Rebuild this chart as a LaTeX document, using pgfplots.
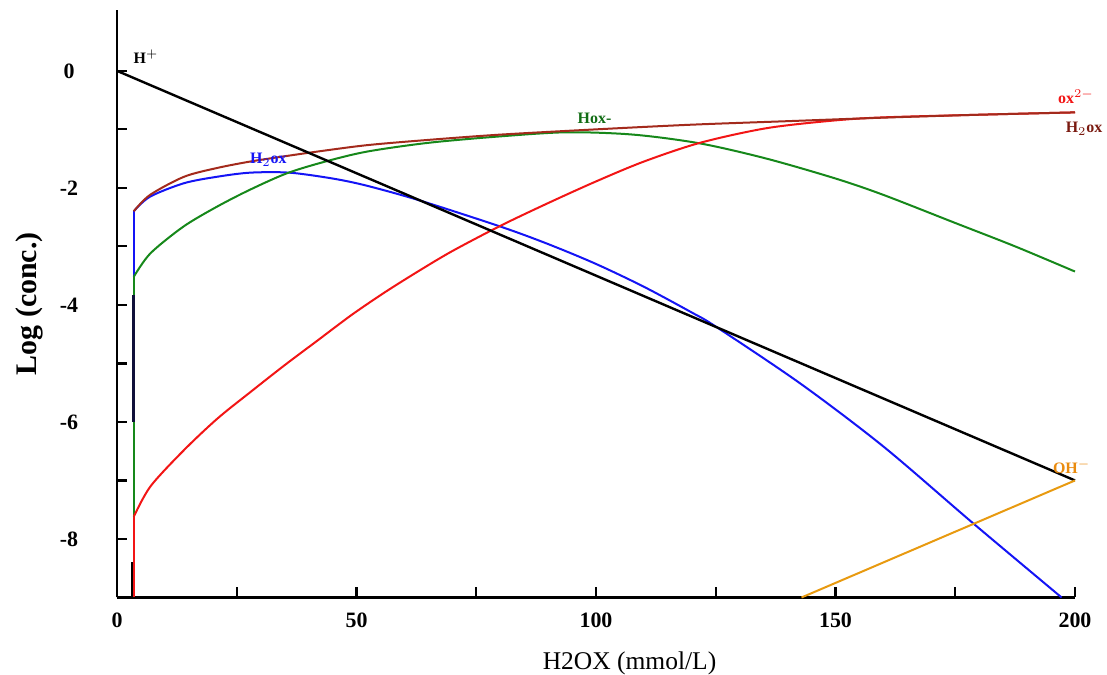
\documentclass[border=0pt]{standalone}
\usepackage{fontspec}
\setmainfont{Liberation Serif}
\usepackage{pgfplots}
\pgfplotsset{compat=1.18}
\definecolor{lnBrown}{HTML}{A32A1C}
\definecolor{lnRed}{HTML}{F21515}
\definecolor{lnGreen}{HTML}{16881A}
\definecolor{lnBlue}{HTML}{1414F5}
\definecolor{lnOrange}{HTML}{E89A10}
\definecolor{lbBrown}{HTML}{7A1A10}
\definecolor{navy}{HTML}{10103A}
\tikzset{lbl/.style={font=\fontsize{8}{9}\selectfont\bfseries, inner sep=0pt}}

\begin{document}
\begin{tikzpicture}
\begin{axis}[
  scale only axis, width=479bp, height=293.75bp,
  xmin=0, xmax=200, ymin=-9, ymax=1.04,
  axis x line=bottom, axis y line=left,
  axis line style={-, line width=1.2bp},
  xtick={0,50,...,200}, minor xtick={25,75,125,175},
  ytick={-8,-6,-4,-2,0}, minor ytick={-9,-7,-5,-3,-1},
  tick align=inside, major tick length=5bp, minor tick length=5bp,
  every tick/.style={black, line width=1.1bp},
  /pgf/number format/assume math mode=true,
  ticklabel style={font=\fontsize{11}{13}\selectfont\bfseries},
  xticklabel style={yshift=-4bp},
  yticklabel style={anchor=center, xshift=-24bp},
  xlabel={H2OX (mmol/L)},
  xlabel style={at={(axis description cs:0.535,-0.112)}, anchor=center,
                font=\fontsize{12.8}{14}\selectfont},
  ylabel={Log (conc.)},
  ylabel style={at={(axis description cs:-0.091,0.5)}, anchor=center,
                font=\fontsize{15}{17}\selectfont\bfseries},
  clip=false,
  every axis plot/.append style={line width=1bp},
  crv/.style={smooth, tension=0.5},
]
% vertical jumps at the first point
\addplot[lnBlue] coordinates {(3.5,-6.0) (3.5,-2.40)};
\addplot[lnGreen] coordinates {(3.5,-9) (3.5,-3.52)};
\addplot[navy, line width=1.3bp] coordinates {(3.5,-3.83) (3.5,-6.0)};
\addplot[black] coordinates {(3.2,-8.4) (3.2,-9)};
\addplot[lnRed] coordinates {(3.5,-9) (3.5,-7.62)};
% H2ox (blue)
\addplot[lnBlue, crv] coordinates {
  (3.5,-2.40) (6.9,-2.15) (14,-1.92) (20.9,-1.81) (27.8,-1.74)
  (36,-1.74) (45,-1.84) (52,-1.96) (63,-2.21) (80,-2.66) (90,-2.96)
  (100,-3.30) (110,-3.69) (120,-4.13) (125,-4.37) (142.6,-5.34)
  (160,-6.42) (178.7,-7.73) (197.2,-9)};
% Hox- (green)
\addplot[lnGreen, crv] coordinates {
  (3.5,-3.52) (6.96,-3.12) (13.9,-2.66) (20.9,-2.32) (27.8,-2.03)
  (35.5,-1.75) (43.5,-1.55) (52.2,-1.38) (65,-1.23) (80,-1.12) (93.9,-1.05)
  (107.8,-1.09) (121.7,-1.24) (135.6,-1.50) (150,-1.84) (160,-2.12)
  (175,-2.60) (187.5,-3.00) (200,-3.43)};
% ox2- (red)
\addplot[lnRed, crv] coordinates {
  (3.5,-7.62) (7,-7.10) (14,-6.48) (21,-5.94) (28,-5.48)
  (35,-5.03) (42,-4.60) (49,-4.17) (56,-3.78) (63,-3.42) (70,-3.08)
  (80,-2.65) (90,-2.26) (100,-1.89) (110,-1.55) (121.7,-1.23)
  (135.6,-0.98) (149.5,-0.85) (160,-0.795) (180,-0.75) (200,-0.71)};
% total H2ox (brown)
\addplot[lnBrown, crv] coordinates {
  (3.5,-2.40) (6.9,-2.12) (14,-1.81) (20.9,-1.66) (27.8,-1.55) (35,-1.46)
  (41.8,-1.38) (52.2,-1.27) (65,-1.18) (80,-1.09) (100,-1.00) (120,-0.92)
  (140,-0.86) (160,-0.80) (180,-0.75) (200,-0.71)};
% H+ and OH-
\addplot[black, line width=1.2bp] coordinates {(0,0) (200,-7)};
\addplot[lnOrange] coordinates {(142.9,-9) (200,-7)};

\node[lbl, black]    at (axis cs:6.05,0.24)   {H$^{+}$};
\node[lbl, lnBlue]   at (axis cs:31.6,-1.52)  {H$_{2}$ox};
\node[lbl, lnGreen!80!black] at (axis cs:99.7,-0.82) {Hox-};
\node[lbl, lnRed]    at (axis cs:200.2,-0.44) {ox$^{2-}$};
\node[lbl, lbBrown]  at (axis cs:201.9,-0.99) {H$_{2}$ox};
\node[lbl, lnOrange!90!red] at (axis cs:199.3,-6.77) {OH$^{-}$};
\end{axis}
\pgfresetboundingbox
\path[use as bounding box] ([shift={(-58.5bp,-38.75bp)}]current axis.south west)
  rectangle ([shift={(16bp,5bp)}]current axis.north east);
\end{tikzpicture}
\end{document}
